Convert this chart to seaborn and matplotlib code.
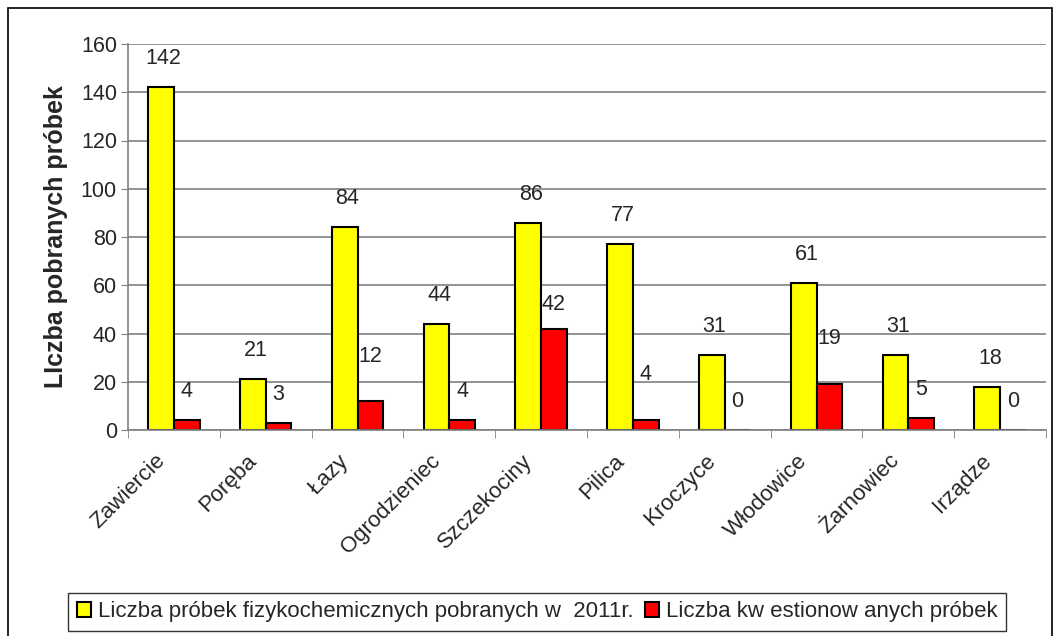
import pandas as pd
import numpy as np
import matplotlib.pyplot as plt
from matplotlib.ticker import MultipleLocator, FixedLocator
from matplotlib.transforms import ScaledTranslation
import seaborn as sns

# dane
gminy = ["Zawiercie", "Poręba", "Łazy", "Ogrodzieniec", "Szczekociny",
         "Pilica", "Kroczyce", "Włodowice", "Żarnowiec", "Irządze"]
pobrane = [142, 21, 84, 44, 86, 77, 31, 61, 31, 18]
kwestionowane = [4, 3, 12, 4, 42, 4, 0, 19, 5, 0]

seria1 = "Liczba próbek fizykochemicznych pobranych w  2011r."
seria2 = "Liczba kw estionow anych próbek"

df = pd.DataFrame({
    "gmina": gminy * 2,
    "liczba": pobrane + kwestionowane,
    "seria": [seria1] * len(gminy) + [seria2] * len(gminy),
})

sns.set_style("white")
plt.rcParams["font.family"] = ["Liberation Sans", "DejaVu Sans"]
FS = 15.5

fig = plt.figure(figsize=(10.61, 6.36), dpi=100)
ax = fig.add_axes([128 / 1061, 1 - 430 / 636, (1046 - 128) / 1061, (430 - 44) / 636])

sns.barplot(data=df, x="gmina", y="liczba", hue="seria", order=gminy,
            palette=["#FFFF00", "#FF0000"], saturation=1, width=0.56,
            edgecolor="black", linewidth=1.5, ax=ax, legend=True)

ax.set_xlim(-0.5, len(gminy) - 0.5)
ax.set_ylim(0, 160)
ax.yaxis.set_major_locator(MultipleLocator(20))
ax.grid(axis="y", color="#808080", linewidth=1.2)
ax.set_axisbelow(True)
for s in ["top", "right"]:
    ax.spines[s].set_visible(False)
for s in ["left", "bottom"]:
    ax.spines[s].set_color("#808080")
    ax.spines[s].set_linewidth(1.2)

ax.tick_params(axis="y", labelsize=FS, length=5, color="#808080", left=True, pad=3)
ax.set_xticks(range(len(gminy)))
ax.set_xticklabels(gminy, rotation=45, ha="right", va="center",
                   rotation_mode="anchor", fontsize=16)
ax.tick_params(axis="x", which="major", length=0, pad=20)
for lbl in ax.get_xticklabels():
    lbl.set_transform(lbl.get_transform() + ScaledTranslation(-0.12, 0, fig.dpi_scale_trans))
ax.xaxis.set_minor_locator(FixedLocator(np.arange(-0.5, len(gminy), 1.0)))
ax.tick_params(axis="x", which="minor", length=6, color="#808080", bottom=True)

ax.set_xlabel("")
ax.set_ylabel("LIczba pobranych próbek", fontsize=18, fontweight="bold", labelpad=9)

# etykiety wartości (jak w Excelu, nad słupkami)
off_red = [26, 26, 42, 26, 22, 43, 26, 43, 26, 26]
for i, v in enumerate(pobrane):
    ax.annotate(str(v), (i - 0.11, v), xytext=(0, 18), textcoords="offset pixels",
                ha="center", va="bottom", fontsize=FS)
for i, v in enumerate(kwestionowane):
    ax.annotate(str(v), (i + 0.14, v), xytext=(0, off_red[i] - 8), textcoords="offset pixels",
                ha="center", va="bottom", fontsize=FS)

ax.legend_.remove()
handles = [plt.Rectangle((0, 0), 1, 1, facecolor="#FFFF00", edgecolor="black", linewidth=1.5),
           plt.Rectangle((0, 0), 1, 1, facecolor="#FF0000", edgecolor="black", linewidth=1.5)]
leg = fig.legend(handles, [seria1, seria2], loc="center", ncol=2,
                 bbox_to_anchor=(537 / 1061, 1 - 612 / 636), fontsize=16,
                 frameon=True, fancybox=False, edgecolor="black",
                 handlelength=0.65, handleheight=0.65, handletextpad=0.3,
                 columnspacing=0.5, borderpad=0.4)
leg.get_frame().set_linewidth(1.0)

# ramka wokół całego wykresu
fig.patches.append(plt.Rectangle((8 / 1061, -0.05), (1052 - 8) / 1061, 1.05 - 8 / 636,
                                 transform=fig.transFigure, fill=False,
                                 edgecolor="black", linewidth=1.2))

fig.savefig("out.png", dpi=100)
